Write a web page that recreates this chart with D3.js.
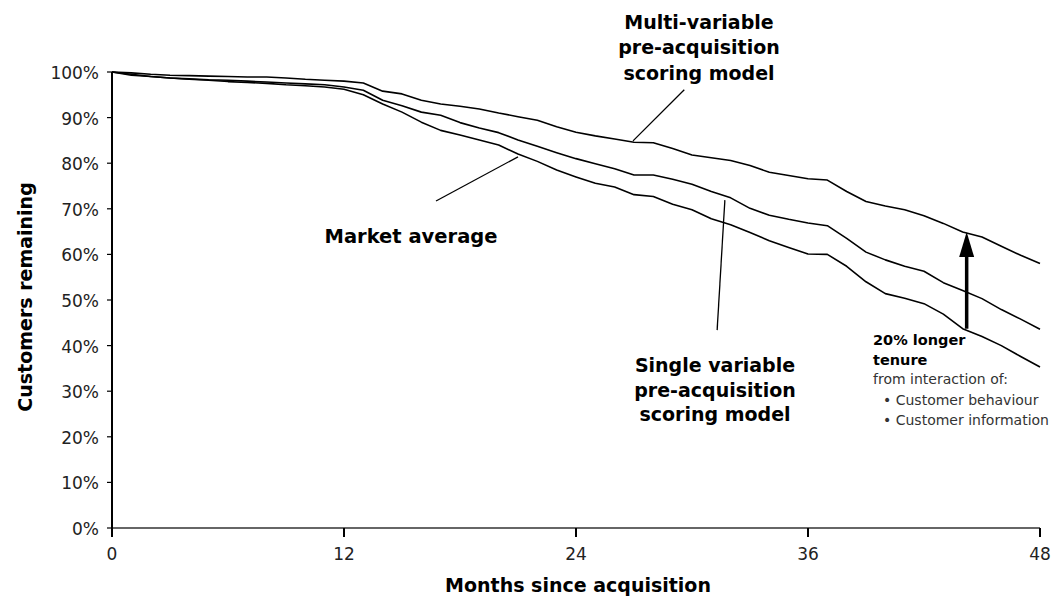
<!DOCTYPE html>
<html><head><meta charset="utf-8">
<script src="https://cdn.jsdelivr.net/npm/d3@7"></script>
<style>body{margin:0;background:#fff}svg{display:block}</style>
</head><body><svg id="c" width="1064" height="597"></svg>
<script>
const months = d3.range(0, 49);
const multiVariable = [100,99.8,99.5,99.3,99.2,99.1,99.0,98.9,98.9,98.7,98.4,98.2,98.0,97.6,95.8,95.2,93.8,93.0,92.5,91.9,91.0,90.2,89.4,88.0,86.8,86.0,85.3,84.6,84.5,83.2,81.8,81.2,80.6,79.5,78.0,77.3,76.6,76.3,73.8,71.6,70.6,69.8,68.5,66.8,64.9,63.8,61.8,59.8,58.0];
const singleVariable = [100,99.5,99.0,98.7,98.5,98.3,98.2,98.0,97.8,97.6,97.4,97.2,96.7,96.0,93.8,92.6,91.2,90.5,88.9,87.7,86.7,85.1,83.7,82.3,81.0,79.9,78.8,77.4,77.4,76.5,75.4,73.8,72.4,70.1,68.6,67.7,66.9,66.3,63.5,60.5,58.8,57.4,56.3,53.8,52.1,50.3,47.9,45.8,43.6];
const marketAverage = [100,99.3,99.0,98.7,98.4,98.2,97.9,97.7,97.5,97.2,97.0,96.7,96.2,95.0,93.0,91.2,89.0,87.2,86.2,85.1,84.0,82.0,80.4,78.5,77.0,75.6,74.8,73.1,72.7,71.0,69.8,67.8,66.5,64.8,63.0,61.5,60.1,60.0,57.4,54.0,51.4,50.4,49.2,46.9,43.7,42.0,40.0,37.6,35.3];
const xTicks = [0, 12, 24, 36, 48];
const yTicks = [0,10,20,30,40,50,60,70,80,90,100];
const yTickLabels = yTicks.map(v => v + "%");
const arrowMonth = 44;
// leader lines in data units: [month, pct] pairs
const leaders = [
  [[29.6, 96.1], [26.95, 84.9]],
  [[16.76, 71.7], [21.0, 81.4]],
  [[31.7, 71.9], [31.3, 43.4]]
];

const svg = d3.select("#c");
const x = d3.scaleLinear().domain([0, 48]).range([112, 1040]);
const y = d3.scaleLinear().domain([0, 100]).range([528, 72]);
const font = "'DejaVu Sans', sans-serif";

// x axis
const xg = svg.append("g").attr("transform", "translate(0,528)");
xg.append("line").attr("x1", x(0)).attr("x2", x(48)).attr("stroke", "#333").attr("stroke-width", 1.5);
xg.selectAll(".xt").data(xTicks).join("line")
  .attr("x1", d => x(d)).attr("x2", d => x(d)).attr("y1", 0).attr("y2", 9)
  .attr("stroke", "#000").attr("stroke-width", 2);
xg.selectAll(".xl").data(xTicks).join("text")
  .attr("x", d => x(d)).attr("y", 32).attr("text-anchor", "middle")
  .attr("font-family", font).attr("font-size", 17).attr("fill", "#222").text(d => d);

// y axis
const yg = svg.append("g").attr("transform", "translate(112,0)");
yg.append("line").attr("y1", y(100)).attr("y2", 537).attr("stroke", "#000").attr("stroke-width", 2);
yg.selectAll(".yt").data(yTicks).join("line")
  .attr("x1", -5).attr("x2", 0).attr("y1", d => y(d)).attr("y2", d => y(d))
  .attr("stroke", "#000").attr("stroke-width", 1.2);
yg.selectAll(".yl").data(yTicks).join("text")
  .attr("x", -13).attr("y", d => y(d) + 7).attr("text-anchor", "end")
  .attr("font-family", font).attr("font-size", 17).attr("fill", "#222")
  .text((d, i) => yTickLabels[i]);

// axis titles
svg.append("text").attr("x", 578).attr("y", 592).attr("text-anchor", "middle")
  .attr("font-family", font).attr("font-weight", "bold").attr("font-size", 19).text("Months since acquisition");
svg.append("text").attr("transform", "translate(32,297) rotate(-90)").attr("text-anchor", "middle")
  .attr("font-family", font).attr("font-weight", "bold").attr("font-size", 19).text("Customers remaining");

// lines
const line = d3.line().x((d, i) => x(months[i])).y(d => y(d));
[multiVariable, singleVariable, marketAverage].forEach(s => {
  svg.append("path").datum(s).attr("d", line).attr("fill", "none")
    .attr("stroke", "#000").attr("stroke-width", 1.6).attr("stroke-linejoin", "round");
});

// leader lines
svg.selectAll(".ld").data(leaders).join("line")
  .attr("x1", d => x(d[0][0])).attr("y1", d => y(d[0][1]))
  .attr("x2", d => x(d[1][0])).attr("y2", d => y(d[1][1]))
  .attr("stroke", "#000").attr("stroke-width", 1.3);

// arrow
const ax = x(arrowMonth) + 4;
const yb = y(marketAverage[arrowMonth]), yt = y(multiVariable[arrowMonth]);
svg.append("line").attr("x1", ax).attr("x2", ax).attr("y1", yb).attr("y2", yt + 22)
  .attr("stroke", "#000").attr("stroke-width", 3.5);
svg.append("path").attr("d", `M${ax},${yt} L${ax-7.5},${yt+25} L${ax+7.5},${yt+25} Z`).attr("fill", "#000");

// labels
function multi(lines, cx, y0, lh, size) {
  const t = svg.append("text").attr("text-anchor", "middle").attr("font-family", font)
    .attr("font-weight", "bold").attr("font-size", size);
  lines.forEach((l, i) => t.append("tspan").attr("x", cx).attr("y", y0 + i * lh).text(l));
}
multi(["Multi-variable", "pre-acquisition", "scoring model"], 699, 28.5, 25.7, 19);
multi(["Market average"], 411, 243, 0, 19.5);
multi(["Single variable", "pre-acquisition", "scoring model"], 715, 372, 24.5, 19);

const ann = svg.append("g").attr("font-family", font);
ann.append("text").attr("x", 873).attr("y", 345).attr("font-weight", "bold").attr("font-size", 14.5).text("20% longer");
ann.append("text").attr("x", 873).attr("y", 365).attr("font-weight", "bold").attr("font-size", 14.5).text("tenure");
ann.append("text").attr("x", 873).attr("y", 384).attr("font-size", 14).attr("fill", "#333").text("from interaction of:");
ann.append("text").attr("x", 883).attr("y", 405).attr("font-size", 14).attr("fill", "#333").text("\u2022 Customer behaviour");
ann.append("text").attr("x", 883).attr("y", 425).attr("font-size", 14).attr("fill", "#333").text("\u2022 Customer information");
</script></body></html>
